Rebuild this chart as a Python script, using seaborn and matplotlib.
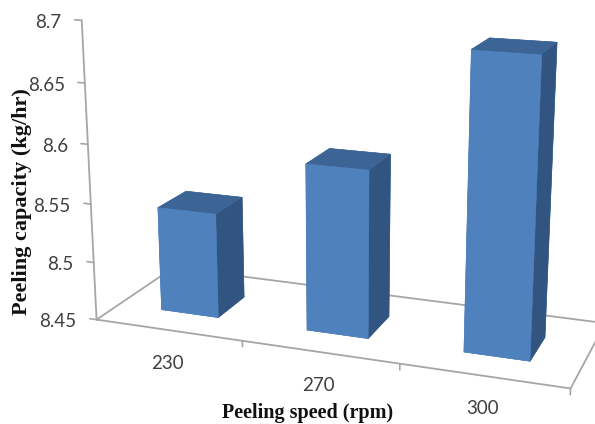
import numpy as np
import matplotlib
matplotlib.use("Agg")
import matplotlib.pyplot as plt
import seaborn as sns
from mpl_toolkits.mplot3d import proj3d

# Peeling capacity
speeds = ["230", "270", "300"]
capacity = [8.54, 8.59, 8.69]
y_ticks = [8.45, 8.5, 8.55, 8.6, 8.65, 8.7]
y_tick_labels = ["8.45", "8.5", "8.55", "8.6", "8.65", "8.7"]

sns.set_theme(style="white")
plt.rcParams["font.family"] = ["Lato", "DejaVu Sans"]
front, top, side = sns.color_palette(["#4F81BD", "#3C6494", "#325480"])
grey = "#a6a6a6"

fig = plt.figure(figsize=(5.95, 4.24), dpi=100)
ax = fig.add_axes([46.80 / 595, -55.50 / 424, 591.42 / 595, 591.42 / 424], projection="3d")
ax.set_xlim(-0.5, 2.5, view_margin=0)
ax.set_ylim(0, 1, view_margin=0)
ax.set_zlim(y_ticks[0], y_ticks[-1], view_margin=0)
ax.view_init(elev=15.588, azim=-69.817, roll=-0.088)
ax.set_proj_type("persp", focal_length=0.4457)
ax.set_box_aspect((1.5881, 0.5569, 1.0))
ax.set_axis_off()
ax.computed_zorder = False

base = y_ticks[0]
n = len(speeds)
M = ax.get_proj()


def label(x, z, text, dx, dy, ha):
    # text sits in the 2D plane, offset in pixels from its projected anchor
    px, py, _ = proj3d.proj_transform(x, 0, z, M)
    ax.annotate(text, (px, py), xytext=(dx, dy), textcoords="offset pixels",
                ha=ha, va="center", fontsize=13.5, color="#404040")


# Floor outline and value axis
floor_x = [-0.5, 2.5, 2.5, -0.5, -0.5]
floor_y = [0, 0, 1, 1, 0]
ax.plot(floor_x, floor_y, [base] * 5, color=grey, lw=1.3, zorder=1)
ax.plot([-0.5, -0.5], [0, 0], [base, y_ticks[-1]], color=grey, lw=1.3, zorder=1)

# Tick marks
for v, lab in zip(y_ticks, y_tick_labels):
    ax.plot([-0.548, -0.5], [0, 0], [v, v], color=grey, lw=1.2, zorder=1)
    label(-0.5, v, lab, -20, -2, "right")
for x in np.arange(n + 1) - 0.5:
    if x > -0.5:
        ax.plot([x, x], [0, 0], [base, base - 0.005], color=grey, lw=1.2, zorder=1)

# Bars
half = 0.1994
depth0, depth1 = 0.2833, 0.6562
faces = [front] * 6
faces[1] = top
faces[5] = side
ax.bar3d(np.arange(n) - half, [depth0] * n, [base] * n, [2 * half] * n,
         [depth1 - depth0] * n, np.array(capacity) - base,
         color=faces * n, edgecolor=faces * n, linewidth=0.4, shade=False, zorder=3)

for i, lab in enumerate(speeds):
    label(i, base, lab, -1, -33, "center")

fig.text(308 / 595, 1 - 413 / 424, "Peeling speed (rpm)", ha="center", va="center",
         family="Liberation Serif", weight="bold", fontsize=14.5, color="#111111")
fig.text(22 / 595, 1 - 202 / 424, "Peeling capacity (kg/hr)", ha="center", va="center", rotation=90,
         family="Liberation Serif", weight="bold", fontsize=16, color="#111111")

fig.savefig("out.png", dpi=100)
